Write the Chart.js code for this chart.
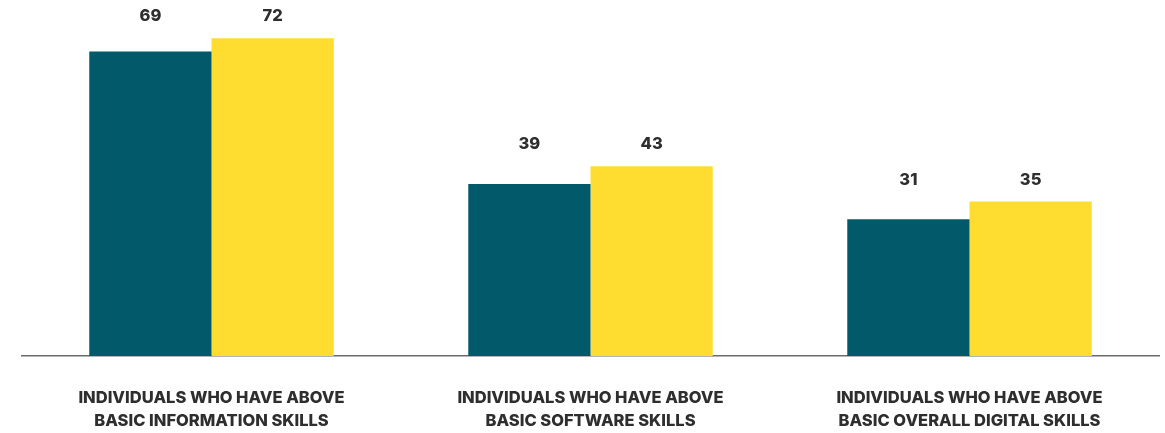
<!DOCTYPE html>
<html>
<head>
<meta charset="utf-8">
<script src="https://cdn.jsdelivr.net/npm/chart.js@4/dist/chart.umd.min.js"></script>
<style>
  html, body { margin: 0; padding: 0; background: #fff; }
  #wrap { width: 1165px; height: 433px; position: relative; }
</style>
</head>
<body>
<div id="wrap"><canvas id="skills-canvas"></canvas></div>
<script>
// Dados do gráfico
const categories = [
    ['INDIVIDUALS WHO HAVE ABOVE', 'BASIC INFORMATION SKILLS'],
    ['INDIVIDUALS WHO HAVE ABOVE', 'BASIC SOFTWARE SKILLS'],
    ['INDIVIDUALS WHO HAVE ABOVE', 'BASIC OVERALL DIGITAL SKILLS']
];
const seriesA = [69, 39, 31];
const seriesB = [72, 43, 35];

const tealColor = '#02596a';
const yellowColor = '#fedd30';
const textColor = '#2e2e2e';
const fontFamily = 'Inter, "Liberation Sans", sans-serif';

// Rótulos acima de cada grupo, alinhados pela barra mais alta
const groupLabels = {
    id: 'groupLabels',
    afterDatasetsDraw(chart) {
        const ctx = chart.ctx;
        const metaA = chart.getDatasetMeta(0);
        const metaB = chart.getDatasetMeta(1);
        ctx.save();
        ctx.fillStyle = textColor;
        ctx.font = '800 16.5px ' + fontFamily;
        ctx.textAlign = 'center';
        ctx.textBaseline = 'middle';
        metaA.data.forEach((barA, i) => {
            const barB = metaB.data[i];
            const top = Math.min(barA.y, barB.y);
            ctx.fillText(String(seriesA[i]), barA.x, top - 22);
            ctx.fillText(String(seriesB[i]), barB.x, top - 22);
        });
        ctx.restore();
    }
};

const config = {
    type: 'bar',
    data: {
        labels: categories,
        datasets: [
            { data: seriesA, backgroundColor: tealColor },
            { data: seriesB, backgroundColor: yellowColor }
        ]
    },
    options: {
        responsive: true,
        maintainAspectRatio: false,
        animation: false,
        layout: { padding: { top: 3, left: 22, right: 6, bottom: 0 } },
        datasets: {
            bar: { categoryPercentage: 0.645, barPercentage: 1.0 }
        },
        plugins: {
            legend: { display: false },
            tooltip: { enabled: false }
        },
        scales: {
            x: {
                grid: { display: false, drawTicks: false },
                border: { display: true, color: '#6b6b6b', width: 1.5 },
                afterFit(scale) { scale.height = 77; },
                ticks: {
                    color: textColor,
                    padding: 30,
                    maxRotation: 0,
                    autoSkip: false,
                    font: { family: fontFamily, size: 16.5, weight: '800', lineHeight: 1.4 }
                }
            },
            y: {
                display: false,
                min: 0,
                max: 80
            }
        }
    },
    plugins: [groupLabels]
};

window.onload = function() {
    const ctx = document.getElementById('skills-canvas').getContext('2d');
    new Chart(ctx, config);
};
</script>
</body>
</html>
